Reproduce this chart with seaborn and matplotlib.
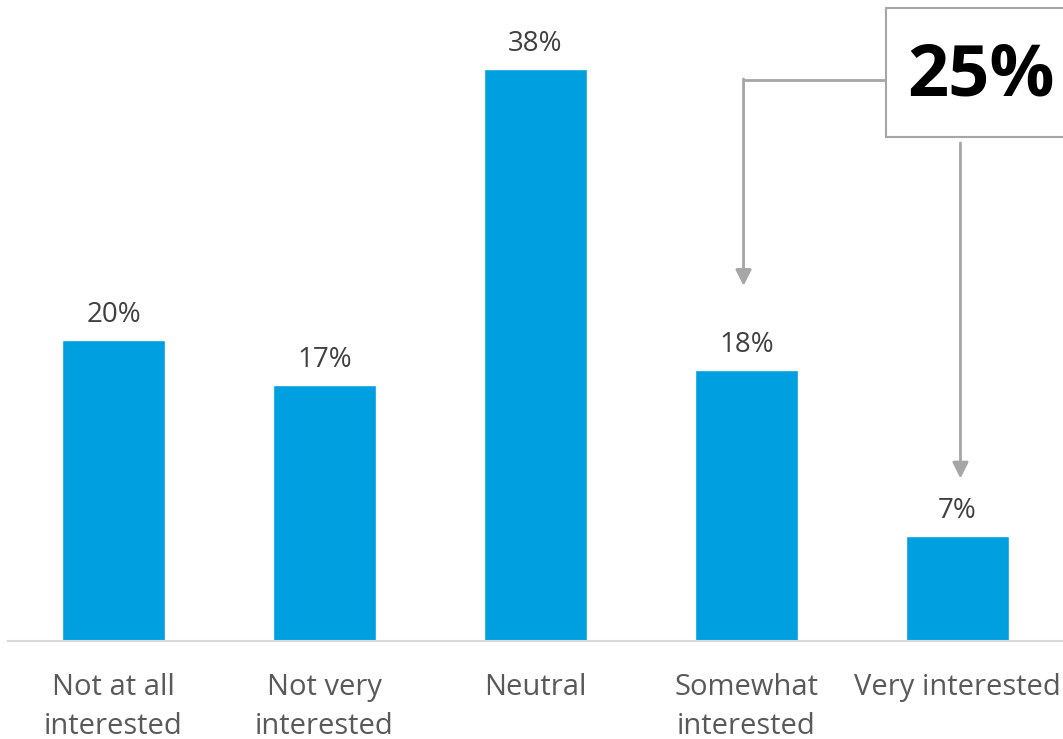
import matplotlib
matplotlib.use("Agg")
import matplotlib.pyplot as plt
import seaborn as sns
import pandas as pd
from matplotlib.patches import Rectangle

categories = ["Not at all\ninterested", "Not very\ninterested", "Neutral", "Somewhat\ninterested", "Very interested"]
values = [20, 17, 38, 18, 7]
value_labels = ["20%", "17%", "38%", "18%", "7%"]
callout_text = "25%"

sns.set_theme(style="white")
plt.rcParams["font.family"] = ["Open Sans", "DejaVu Sans"]

BAR = "#009FDF"
TXT = "#404040"
TICK = "#595959"
GRAY = "#A6A6A6"

df = pd.DataFrame({"cat": categories, "val": values})

fig = plt.figure(figsize=(10.63, 7.39), dpi=100)
ax = fig.add_axes([8 / 1063, (739 - 641) / 739, 1 - 8 / 1063, 641 / 739])

sns.barplot(data=df, x="cat", y="val", color=BAR, saturation=1, width=0.49, ax=ax)

ax.set_xlim(-0.5, 4.5)
ax.set_ylim(0, 42.6)
ax.set_xlabel("")
ax.set_ylabel("")
ax.set_yticks([])
for s in ["top", "right", "left"]:
    ax.spines[s].set_visible(False)
ax.spines["bottom"].set_color("#D9D9D9")
ax.spines["bottom"].set_linewidth(1.5)
ax.tick_params(axis="x", length=0, pad=23, labelsize=21, labelcolor=TICK)
for t in ax.get_xticklabels():
    t.set_linespacing(1.46)

for i, (v, lab) in enumerate(zip(values, value_labels)):
    ax.annotate(lab, xy=(i, v), xytext=(0, 18), textcoords="offset points",
                ha="center", va="center", fontsize=20, color=TXT)

# callout box
ax.add_patch(Rectangle((3.659, 33.5), 3.0, 8.6, facecolor="white", edgecolor=GRAY,
                       linewidth=1.5, clip_on=False, zorder=3))
ax.text(4.11, 37.5, callout_text, ha="center", va="center", fontsize=52,
        fontweight="bold", color="black", zorder=4)

# connector to "Somewhat interested"
ax.plot([3.659, 2.986], [37.3, 37.3], color=GRAY, linewidth=2, solid_capstyle="butt", zorder=2)
ax.annotate("", xy=(2.986, 23.6), xytext=(2.986, 37.35),
            arrowprops=dict(arrowstyle="-|>,head_length=0.8,head_width=0.4", color=GRAY,
                            linewidth=2, shrinkA=0, shrinkB=0))
# connector to "Very interested"
ax.annotate("", xy=(4.014, 10.8), xytext=(4.014, 33.1),
            arrowprops=dict(arrowstyle="-|>,head_length=0.8,head_width=0.4", color=GRAY,
                            linewidth=2, shrinkA=0, shrinkB=0))

fig.savefig("out.png", dpi=100)
